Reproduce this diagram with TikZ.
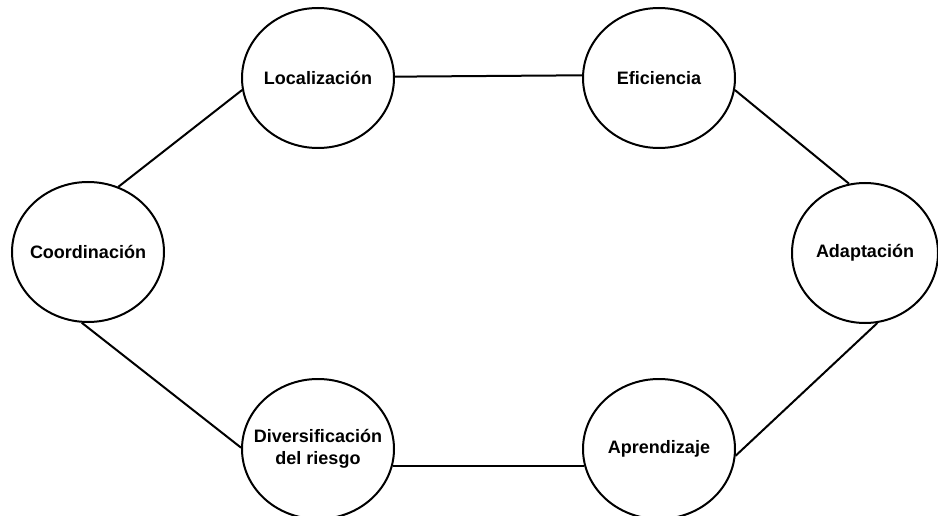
\documentclass[tikz,border=0pt]{standalone}
\usepackage{fontspec}
\setmainfont{Liberation Sans}
\usetikzlibrary{shapes.geometric}
\begin{document}
\begin{tikzpicture}[x=1pt,y=-1pt,
  bubble/.style={ellipse,draw,line width=2pt,minimum width=152pt,minimum height=140pt,inner sep=0pt,
    label={[font=\fontsize{18}{22}\selectfont\bfseries,align=center]center:#1}},
  link/.style={line width=2pt}]
\useasboundingbox (0,0) rectangle (938,516);
\clip (0,0) rectangle (938,516);
\fill[white] (0,0) rectangle (938,516);

\node[bubble=Localización] (loc) at (318,78) {};
\node[bubble=Eficiencia] (efi) at (659,78) {};
\node[bubble=Coordinación] (coo) at (88,252) {};
\node[bubble=Adaptación,minimum width=146pt] (ada) at (865,253) {};
\node[bubble={Diversificación\\del riesgo}] (div) at (318,449) {};
\node[bubble=Aprendizaje] (apr) at (659,449) {};

\draw[link] (loc.1.5) -- (efi.178.5);
\draw[link] (efi.351.7) -- (ada.103);
\draw[link] (ada.280.7) -- (apr.355.4);
\draw[link] (apr.193) -- (div.347);
\draw[link] (div.179) -- (coo.265);
\draw[link] (coo.65.6) -- (loc.189);
\end{tikzpicture}
\end{document}
